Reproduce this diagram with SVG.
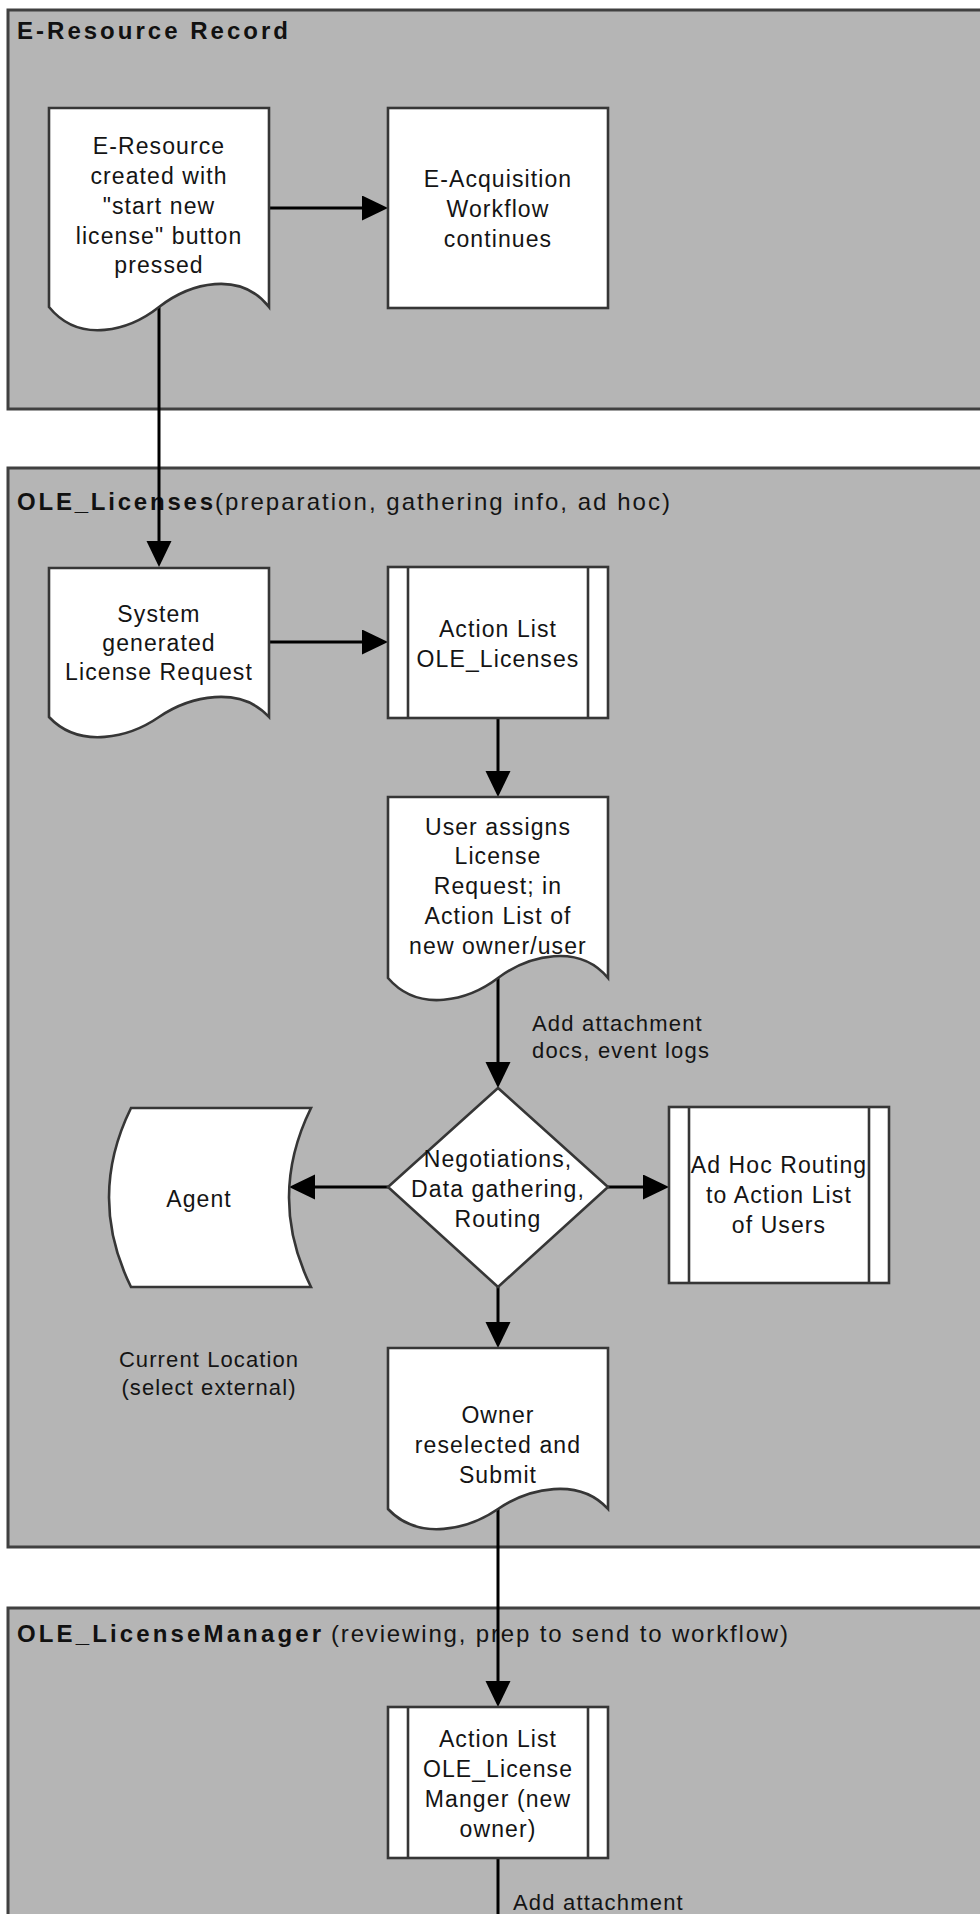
<svg xmlns="http://www.w3.org/2000/svg" width="980" height="1914" viewBox="0 0 980 1914">
  <style>
    .lane { fill: #b5b5b5; stroke: #404040; stroke-width: 3; }
    .node { fill: #ffffff; stroke: #363636; stroke-width: 2.6; }
    .bar { fill: none; stroke: #363636; stroke-width: 2.6; }
    .conn { fill: none; stroke: #000000; stroke-width: 3; }
    .t { font-family: "Liberation Sans", Arial, sans-serif; font-size: 23px; letter-spacing: 1.1px; fill: #141414; text-anchor: middle; }
    .lbl { font-family: "Liberation Sans", Arial, sans-serif; font-size: 22px; letter-spacing: 1.2px; fill: #141414; }
    .title { font-family: "Liberation Sans", Arial, sans-serif; font-size: 24px; font-weight: bold; fill: #111111; }
    .sub { font-family: "Liberation Sans", Arial, sans-serif; font-size: 24px; fill: #141414; }
  </style>
  <defs>
    <marker id="arrow" markerUnits="userSpaceOnUse" markerWidth="26" markerHeight="26" viewBox="0 0 26 26" refX="22" refY="12.5" orient="auto">
      <path d="M0,0 L26,12.5 L0,25 Z" fill="#000000"/>
    </marker>
  </defs>

  <g id="lane-eresource">
    <rect class="lane" x="8" y="10" width="1000" height="399"/>
    <text class="title" x="17" y="39" font-size="26" textLength="271" lengthAdjust="spacing">E-Resource Record</text>
  </g>
  <g id="lane-ole-licenses">
    <rect class="lane" x="8" y="468" width="1000" height="1079"/>
    <text class="title" x="17" y="510" textLength="196" lengthAdjust="spacing">OLE_Licenses</text>
    <text class="sub" x="215" y="510" textLength="455" lengthAdjust="spacing">(preparation, gathering info, ad hoc)</text>
  </g>
  <g id="lane-ole-licensemanager">
    <rect class="lane" x="8" y="1608" width="1000" height="400"/>
    <text class="title" x="17" y="1642" textLength="304" lengthAdjust="spacing">OLE_LicenseManager</text>
    <text class="sub" x="331" y="1642" textLength="457" lengthAdjust="spacing">(reviewing, prep to send to workflow)</text>
  </g>

  <g id="connectors">
    <path class="conn" d="M269,208 H384" marker-end="url(#arrow)"/>
    <path class="conn" d="M159,307 V563" marker-end="url(#arrow)"/>
    <path class="conn" d="M269,642 H384" marker-end="url(#arrow)"/>
    <path class="conn" d="M498,718 V793" marker-end="url(#arrow)"/>
    <path class="conn" d="M498,978 V1084" marker-end="url(#arrow)"/>
    <path class="conn" d="M388,1187 H293" marker-end="url(#arrow)"/>
    <path class="conn" d="M608,1187 H665" marker-end="url(#arrow)"/>
    <path class="conn" d="M498,1287 V1344" marker-end="url(#arrow)"/>
    <path class="conn" d="M498,1509 V1703" marker-end="url(#arrow)"/>
    <path class="conn" d="M498,1858 V1914"/>
    <text class="lbl" x="532" y="1031">Add attachment</text>
    <text class="lbl" x="532" y="1058">docs, event logs</text>
    <text class="lbl" x="513" y="1910">Add attachment</text>
  </g>

  <g id="node-eresource-created">
    <path class="node" d="M49,108 H269 V307 c-29,-37 -79,-24 -110,0 c-29,23 -79,38 -110,0 Z"/>
    <text class="t" x="159" y="154">E-Resource</text>
    <text class="t" x="159" y="184">created with</text>
    <text class="t" x="159" y="214">"start new</text>
    <text class="t" x="159" y="244">license" button</text>
    <text class="t" x="159" y="273">pressed</text>
  </g>
  <g id="node-eacquisition">
    <rect class="node" x="388" y="108" width="220" height="200"/>
    <text class="t" x="498" y="187">E-Acquisition</text>
    <text class="t" x="498" y="217">Workflow</text>
    <text class="t" x="498" y="247">continues</text>
  </g>
  <g id="node-system-generated">
    <path class="node" d="M49,568 H269 V717 c-29,-32 -79,-21 -110,0 c-29,20 -79,33 -110,0 Z"/>
    <text class="t" x="159" y="622">System</text>
    <text class="t" x="159" y="651">generated</text>
    <text class="t" x="159" y="680">License Request</text>
  </g>
  <g id="node-actionlist-licenses">
    <rect class="node" x="388" y="567" width="220" height="151"/>
    <line class="bar" x1="408" y1="567" x2="408" y2="718"/>
    <line class="bar" x1="588" y1="567" x2="588" y2="718"/>
    <text class="t" x="498" y="637">Action List</text>
    <text class="t" x="498" y="667">OLE_Licenses</text>
  </g>
  <g id="node-user-assigns">
    <path class="node" d="M388,797 H608 V978 c-29,-35 -79,-23 -110,0 c-29,22 -79,36 -110,0 Z"/>
    <text class="t" x="498" y="835">User assigns</text>
    <text class="t" x="498" y="864">License</text>
    <text class="t" x="498" y="894">Request; in</text>
    <text class="t" x="498" y="924">Action List of</text>
    <text class="t" x="498" y="954">new owner/user</text>
  </g>
  <g id="node-negotiations">
    <polygon class="node" points="498,1088 608,1187 498,1287 388,1187"/>
    <text class="t" x="498" y="1167">Negotiations,</text>
    <text class="t" x="498" y="1197">Data gathering,</text>
    <text class="t" x="498" y="1227">Routing</text>
  </g>
  <g id="node-agent">
    <path class="node" d="M131,1108 H311 Q267,1197.5 311,1287 H131 Q87,1197.5 131,1108 Z"/>
    <text class="t" x="199" y="1207">Agent</text>
  </g>
  <g id="node-adhoc">
    <rect class="node" x="669" y="1107" width="220" height="176"/>
    <line class="bar" x1="689" y1="1107" x2="689" y2="1283"/>
    <line class="bar" x1="869" y1="1107" x2="869" y2="1283"/>
    <text class="t" x="779" y="1173">Ad Hoc Routing</text>
    <text class="t" x="779" y="1203">to Action List</text>
    <text class="t" x="779" y="1233">of Users</text>
  </g>
  <g id="note-current-location">
    <text class="t" x="209" y="1367" style="font-size:22px;letter-spacing:1.1px">Current Location</text>
    <text class="t" x="209" y="1395" style="font-size:22px;letter-spacing:1.1px">(select external)</text>
  </g>
  <g id="node-owner-reselected">
    <path class="node" d="M388,1348 H608 V1509 c-29,-32 -79,-21 -110,0 c-29,20 -79,33 -110,0 Z"/>
    <text class="t" x="498" y="1423">Owner</text>
    <text class="t" x="498" y="1453">reselected and</text>
    <text class="t" x="498" y="1483">Submit</text>
  </g>
  <g id="node-actionlist-manager">
    <rect class="node" x="388" y="1707" width="220" height="151"/>
    <line class="bar" x1="408" y1="1707" x2="408" y2="1858"/>
    <line class="bar" x1="588" y1="1707" x2="588" y2="1858"/>
    <text class="t" x="498" y="1747">Action List</text>
    <text class="t" x="498" y="1777">OLE_License</text>
    <text class="t" x="498" y="1807">Manger (new</text>
    <text class="t" x="498" y="1837">owner)</text>
  </g>
</svg>
